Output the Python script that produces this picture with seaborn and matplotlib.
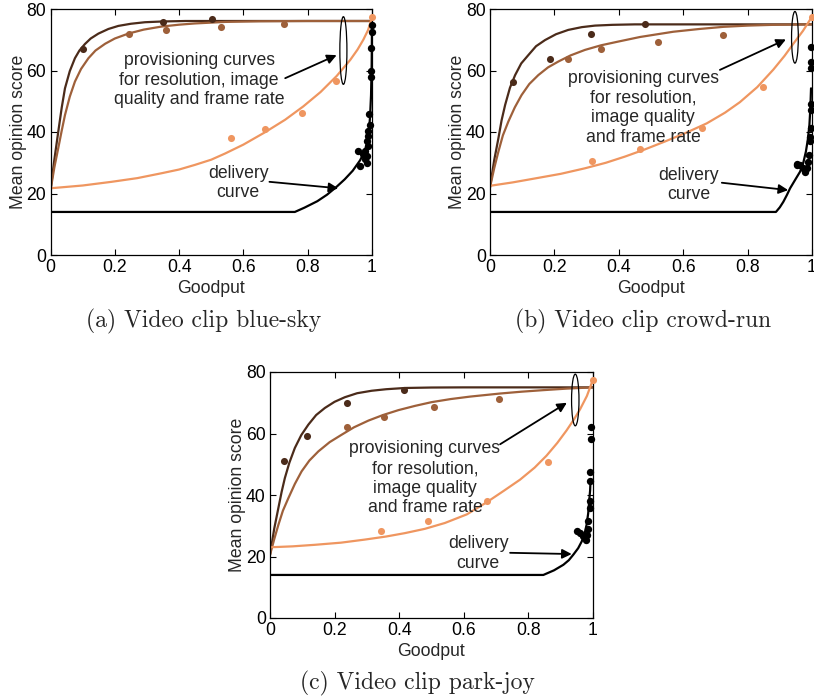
import numpy as np
import pandas as pd
import matplotlib
matplotlib.use("Agg")
import matplotlib.pyplot as plt
from matplotlib.patches import Ellipse
import seaborn as sns

# ---------------- data ----------------
# Panel (a) blue-sky
a_dark_x = [0, 0.012, 0.024, 0.035, 0.045, 0.06, 0.076, 0.09, 0.107, 0.125, 0.149, 0.18,
            0.211, 0.25, 0.294, 0.35, 0.42, 1.0]
a_dark_y = [21, 31, 40, 48, 54.2, 59.8, 64.0, 66.5, 68.6, 70.4, 72.0, 73.5,
            74.5, 75.2, 75.7, 75.95, 76.1, 76.1]
a_med_x = [0, 0.012, 0.024, 0.035, 0.045, 0.06, 0.076, 0.095, 0.118, 0.14, 0.17, 0.2,
           0.242, 0.29, 0.346, 0.4, 0.449, 0.543, 0.65, 0.8, 1.0]
a_med_y = [21, 28.5, 34.7, 40.5, 45.5, 51.5, 56.4, 60.5, 64.0, 66.5, 68.7, 70.4,
           72.0, 73.3, 74.3, 74.9, 75.3, 75.8, 76.0, 76.1, 76.1]
a_org_x = [0, 0.1, 0.19, 0.27, 0.346, 0.4, 0.449, 0.5, 0.543, 0.6, 0.667, 0.73, 0.786,
           0.84, 0.89, 0.932, 0.955, 0.973, 0.988, 1.0]
a_org_y = [21.7, 22.6, 23.8, 25.0, 26.6, 27.8, 29.3, 31.0, 33.0, 35.9, 39.9, 44.0, 48.3,
           53.0, 58.2, 63.4, 66.8, 70.0, 73.2, 77.3]
a_dark_px = [0.102, 0.351, 0.503]
a_dark_py = [66.9, 75.7, 76.7]
a_med_px = [0.244, 0.359, 0.53, 0.726]
a_med_py = [71.8, 73.2, 74.0, 75.0]
a_org_px = [0.561, 0.667, 0.783, 0.888, 1.0]
a_org_py = [37.9, 40.9, 46.1, 56.7, 77.3]
a_del_x = [0, 0.76, 0.79, 0.83, 0.86, 0.89, 0.915, 0.94, 0.963, 0.975, 0.984, 0.99,
           0.994, 0.997, 0.999, 1.0]
a_del_y = [14, 14, 15.4, 17.5, 19.6, 22.2, 24.6, 27.4, 30.8, 33.3, 36.0, 39.8,
           45, 52, 62, 75.3]
a_del_px = [0.999, 0.999, 0.996, 0.996, 0.996, 0.992, 0.994, 0.989, 0.989, 0.983,
            0.989, 0.978, 0.957, 0.973, 0.983, 0.978, 0.983, 0.963]
a_del_py = [74.8, 72.6, 67.3, 59.7, 57.9, 45.7, 42.4, 40.3, 38.7, 37.0,
            35.4, 33.8, 33.8, 32.7, 32.2, 31.1, 30.0, 28.9]

# Panel (b) crowd-run
b_dark_x = [0, 0.013, 0.026, 0.036, 0.047, 0.062, 0.078, 0.097, 0.119, 0.143, 0.171,
            0.205, 0.243, 0.285, 0.326, 0.38, 0.45, 0.6, 1.0]
b_dark_y = [22, 30.8, 37.9, 43.8, 48.8, 54.4, 58.5, 62.3, 65.0, 67.9, 69.9,
            71.8, 73.2, 74.1, 74.6, 74.85, 75.0, 75.0, 75.0]
b_med_x = [0, 0.013, 0.026, 0.04, 0.057, 0.077, 0.098, 0.122, 0.15, 0.18, 0.212, 0.25,
           0.295, 0.345, 0.398, 0.466, 0.569, 0.65, 0.725, 0.8, 0.88, 1.0]
b_med_y = [22, 28.2, 33.6, 38.9, 43.4, 48.0, 52.0, 55.6, 58.5, 61.0, 62.9, 64.9,
           66.7, 68.2, 69.4, 70.9, 72.6, 73.5, 74.2, 74.6, 74.85, 75.0]
b_org_x = [0, 0.07, 0.14, 0.22, 0.295, 0.36, 0.419, 0.48, 0.543, 0.61, 0.673, 0.73,
           0.776, 0.83, 0.88, 0.915, 0.942, 0.972, 1.0]
b_org_y = [22.5, 23.6, 24.9, 26.4, 28.2, 30.0, 32.0, 34.3, 36.9, 39.8, 42.8, 46.3,
           49.7, 54.6, 60.3, 64.8, 68.7, 72.9, 77.5]
b_dark_px = [0.072, 0.186, 0.314, 0.481]
b_dark_py = [56.4, 63.7, 71.9, 75.1]
b_med_px = [0.243, 0.345, 0.521, 0.723]
b_med_py = [63.7, 66.9, 69.4, 71.5]
b_org_px = [0.318, 0.466, 0.657, 0.847, 1.0]
b_org_py = [30.7, 34.5, 41.4, 54.7, 77.5]
b_del_x = [0, 0.888, 0.90, 0.911, 0.922, 0.932, 0.948, 0.963, 0.973, 0.981, 0.987,
           0.992, 0.995, 0.997]
b_del_y = [14, 14, 15.5, 17.3, 19.5, 21.7, 24.5, 27.1, 30.0, 33.6, 37.5,
           42.3, 48, 54.2]
b_del_px = [0.997, 0.997, 0.997, 0.996, 0.996, 0.996, 0.994, 0.994, 0.954,
            0.963, 0.973, 0.978, 0.983, 0.989, 0.991, 0.952, 0.978]
b_del_py = [67.7, 62.9, 60.8, 49.2, 47.2, 41.2, 38.4, 37.1, 29.5,
            29.2, 28.2, 27.1, 28.2, 30.4, 32.6, 29.3, 27.6]

# Panel (c) park-joy
c_dark_x = [0, 0.013, 0.026, 0.036, 0.046, 0.06, 0.077, 0.097, 0.119, 0.143, 0.17, 0.2,
            0.232, 0.27, 0.315, 0.36, 0.418, 0.5, 0.6, 1.0]
c_dark_y = [20.5, 29.0, 35.8, 41.0, 45.5, 50.5, 55.3, 59.5, 62.9, 66.0, 68.3, 70.3,
            71.8, 73.1, 73.9, 74.4, 74.8, 74.95, 75.0, 75.0]
c_med_x = [0, 0.013, 0.026, 0.04, 0.057, 0.077, 0.098, 0.122, 0.15, 0.185, 0.222, 0.26,
           0.305, 0.35, 0.398, 0.45, 0.501, 0.56, 0.62, 0.713, 0.78, 0.847, 0.92, 1.0]
c_med_y = [20.5, 25.6, 30.3, 34.9, 39.0, 43.6, 47.7, 51.2, 54.2, 57.2, 59.6, 62.0,
           64.2, 66.0, 67.6, 69.0, 70.2, 71.2, 72.0, 73.0, 73.6, 74.1, 74.6, 75.0]
c_org_x = [0, 0.07, 0.139, 0.22, 0.294, 0.36, 0.418, 0.48, 0.542, 0.61, 0.671, 0.725,
           0.775, 0.82, 0.857, 0.89, 0.919, 0.942, 0.961, 0.982, 1.0]
c_org_y = [23.0, 23.3, 23.8, 24.5, 25.5, 26.5, 27.6, 29.0, 30.9, 33.7, 37.6, 41.4,
           45.0, 48.9, 52.8, 56.9, 61.0, 64.6, 67.9, 72.2, 77.3]
c_dark_px = [0.043, 0.115, 0.238, 0.414]
c_dark_py = [51.0, 59.3, 69.8, 74.3]
c_med_px = [0.238, 0.353, 0.507, 0.709]
c_med_py = [62.0, 65.3, 68.5, 71.2]
c_org_px = [0.343, 0.489, 0.671, 0.862, 1.0]
c_org_py = [28.2, 31.6, 38.1, 50.7, 77.3]
c_del_x = [0, 0.847, 0.88, 0.909, 0.926, 0.94, 0.955, 0.966, 0.975, 0.981, 0.986,
           0.989, 0.992, 0.993]
c_del_y = [14, 14, 15.5, 17.3, 18.8, 20.6, 22.7, 24.9, 27.5, 30.3, 34,
           37.9, 41.5, 44.0]
c_del_px = [0.994, 0.994, 0.993, 0.993, 0.992, 0.992, 0.986, 0.952, 0.96,
            0.971, 0.979, 0.983, 0.986]
c_del_py = [62.0, 58.3, 47.5, 44.7, 38.2, 35.8, 31.4, 28.4, 27.6,
            26.6, 25.5, 27.0, 29.0]

x_ticks = [0, 0.2, 0.4, 0.6, 0.8, 1]
x_tick_labels = ["0", "0.2", "0.4", "0.6", "0.8", "1"]
y_ticks = [0, 20, 40, 60, 80]
captions = ["(a) Video clip blue-sky", "(b) Video clip crowd-run", "(c) Video clip park-joy"]
prov_texts = ["provisioning curves\nfor resolution, image\nquality and frame rate",
              "provisioning curves\nfor resolution,\nimage quality\nand frame rate",
              "provisioning curves\nfor resolution,\nimage quality\nand frame rate"]
deliv_text = "delivery\ncurve"

# ---------------- style ----------------
sns.set_style("ticks")
plt.rcParams["font.family"] = ["Liberation Sans", "DejaVu Sans"]
plt.rcParams["xtick.direction"] = "in"
plt.rcParams["ytick.direction"] = "in"

C_DARK = "#4b2b1a"
C_MED = "#9e603a"
C_ORG = "#ef9660"
C_DEL = "#000000"
FS = 12.7

fig = plt.figure(figsize=(8.14, 6.99), dpi=100)
axes_pos = [
    [50.5 / 814, 1 - 255 / 699, 321.5 / 814, 246 / 699],
    [490 / 814, 1 - 255 / 699, 322 / 814, 246 / 699],
    [270 / 814, 1 - 618 / 699, 322.7 / 814, 246 / 699],
]

panels = [
    dict(dark=(a_dark_x, a_dark_y), med=(a_med_x, a_med_y), org=(a_org_x, a_org_y),
         dpts=(a_dark_px, a_dark_py), mpts=(a_med_px, a_med_py), opts=(a_org_px, a_org_py),
         deliv=(a_del_x, a_del_y), delpts=(a_del_px, a_del_py),
         ell=(0.911, 66.5, 0.022, 22), parr=((0.73, 57.5), (0.89, 65.0)),
         ptxt=(0.462, 56.8), dtxt=(0.584, 23.4), darr=((0.681, 23.8), (0.895, 21.7)),
         cap=(0.25, 0.5398)),
    dict(dark=(b_dark_x, b_dark_y), med=(b_med_x, b_med_y), org=(b_org_x, b_org_y),
         dpts=(b_dark_px, b_dark_py), mpts=(b_med_px, b_med_py), opts=(b_org_px, b_org_py),
         deliv=(b_del_x, b_del_y), delpts=(b_del_px, b_del_py),
         ell=(0.947, 70.8, 0.021, 16.8), parr=((0.714, 60.2), (0.919, 70.1)),
         ptxt=(0.476, 47.8), dtxt=(0.616, 22.7), darr=((0.72, 23.5), (0.926, 21.1)),
         cap=(0.79, 0.5398)),
    dict(dark=(c_dark_x, c_dark_y), med=(c_med_x, c_med_y), org=(c_org_x, c_org_y),
         dpts=(c_dark_px, c_dark_py), mpts=(c_med_px, c_med_py), opts=(c_org_px, c_org_py),
         deliv=(c_del_x, c_del_y), delpts=(c_del_px, c_del_py),
         ell=(0.946, 70.9, 0.023, 16.8), parr=((0.713, 56.5), (0.92, 70.0)),
         ptxt=(0.48, 45.4), dtxt=(0.645, 20.9), darr=((0.744, 21.2), (0.935, 20.8)),
         cap=(0.513, 0.0225)),
]

for i, (pos, p) in enumerate(zip(axes_pos, panels)):
    ax = fig.add_axes(pos)
    # curves
    for key, col in (("dark", C_DARK), ("med", C_MED), ("org", C_ORG), ("deliv", C_DEL)):
        xs, ys = p[key]
        df = pd.DataFrame({"x": xs, "y": ys})
        sns.lineplot(data=df, x="x", y="y", ax=ax, color=col, lw=1.6, sort=False,
                     estimator=None, legend=False)
    # points
    for key, col, sz in (("dpts", C_DARK, 26), ("mpts", C_MED, 26), ("opts", C_ORG, 26),
                         ("delpts", C_DEL, 28)):
        xs, ys = p[key]
        df = pd.DataFrame({"x": xs, "y": ys})
        sns.scatterplot(data=df, x="x", y="y", ax=ax, color=col, s=sz, linewidth=0,
                        legend=False, clip_on=False, zorder=5)
    ax.set_xlim(0, 1)
    ax.set_ylim(0, 80)
    ax.set_xticks(x_ticks)
    ax.set_xticklabels(x_tick_labels)
    ax.set_yticks(y_ticks)
    ax.tick_params(which="both", direction="in", top=True, right=True, length=4,
                   width=0.8, labelsize=FS, pad=3, colors="black")
    for s in ax.spines.values():
        s.set_linewidth(0.9)
        s.set_color("black")
    ax.set_xlabel("Goodput", fontsize=FS, labelpad=3)
    ax.set_ylabel("Mean opinion score", fontsize=FS, labelpad=0)

    # ellipse + annotations
    ex, ey, ew, eh = p["ell"]
    ax.add_patch(Ellipse((ex, ey), ew, eh, fill=False, lw=0.9, ec="black", zorder=6))
    (sx, sy), (tx, ty) = p["parr"]
    ax.annotate("", xy=(tx, ty), xytext=(sx, sy),
                arrowprops=dict(arrowstyle="-|>", color="black", lw=1.3,
                                mutation_scale=14, shrinkA=0, shrinkB=0))
    ax.text(p["ptxt"][0], p["ptxt"][1], prov_texts[i], ha="center", va="center",
            fontsize=FS, linespacing=1.2)
    ax.text(p["dtxt"][0], p["dtxt"][1], deliv_text, ha="center", va="center",
            fontsize=FS, linespacing=1.2)
    (sx, sy), (tx, ty) = p["darr"]
    ax.annotate("", xy=(tx, ty), xytext=(sx, sy),
                arrowprops=dict(arrowstyle="-|>", color="black", lw=1.3,
                                mutation_scale=14, shrinkA=0, shrinkB=0))
    fig.text(p["cap"][0], p["cap"][1], captions[i], ha="center", va="center",
             fontsize=17, family=["cmr10", "DejaVu Serif"])

fig.savefig("out.png", dpi=100)
